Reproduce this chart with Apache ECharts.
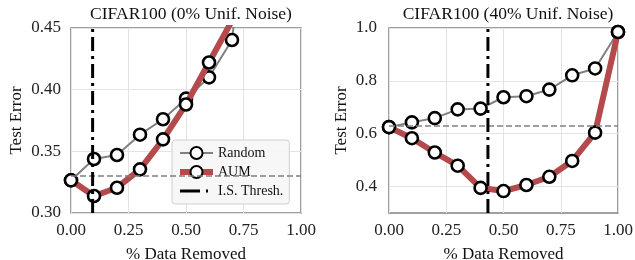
<!DOCTYPE html>
<html>
<head>
<meta charset="utf-8">
<script src="https://cdn.jsdelivr.net/npm/echarts@6/dist/echarts.min.js"></script>
<style>
  html, body { margin: 0; padding: 0; background: #fff; }
  #chart { width: 635px; height: 260px; }
</style>
</head>
<body>
<div id="chart"></div>
<script>
// ============================================================
// 数据
// ============================================================

var X_REMOVED = [0, 0.1, 0.2, 0.3, 0.4, 0.5, 0.6, 0.7, 0.8, 0.9, 1.0];

// CIFAR100 (0% Unif. Noise)
var RANDOM_0 = [0.3265, 0.3438, 0.347, 0.3635, 0.376, 0.3927, 0.410, 0.4403, 0.60, 0.78, 0.99];
var AUM_0 = [0.3265, 0.3138, 0.3205, 0.3354, 0.3597, 0.388, 0.422, 0.456, 0.60, 0.75, 0.99];
var BASELINE_0 = 0.3265;
var THRESH_0 = 0.094;

// CIFAR100 (40% Unif. Noise)
var RANDOM_40 = [0.625, 0.643, 0.659, 0.692, 0.695, 0.738, 0.742, 0.767, 0.821, 0.847, 0.985];
var AUM_40 = [0.625, 0.583, 0.529, 0.479, 0.395, 0.383, 0.406, 0.437, 0.497, 0.604, 0.985];
var BASELINE_40 = 0.625;
var THRESH_40 = 0.432;

var TITLES = ['CIFAR100 (0% Unif. Noise)', 'CIFAR100 (40% Unif. Noise)'];
var X_TICKS = [0, 0.25, 0.5, 0.75, 1.0];
var Y_TICKS_0 = [0.30, 0.35, 0.40, 0.45];
var Y_TICKS_40 = [0.4, 0.6, 0.8, 1.0];
var Y_RANGE_0 = [0.30, 0.45];
var Y_RANGE_40 = [0.3, 1.0];

var FONT = 'Liberation Serif';
var RED = '#b44a4c';
var GREY = '#808080';

// ============================================================
// 工具函数
// ============================================================

function zip(xs, ys) {
  return xs.map(function(x, i) { return [x, ys[i]]; });
}

function makeXAxis(gridIndex) {
  return {
    type: 'value', gridIndex: gridIndex, min: 0, max: 1,
    name: '% Data Removed', nameLocation: 'middle', nameGap: 33,
    nameTextStyle: { fontFamily: FONT, fontSize: 17, color: '#111' },
    axisLine: { show: false }, axisTick: { show: false, customValues: X_TICKS },
    axisLabel: { customValues: X_TICKS, fontFamily: FONT, fontSize: 17, color: '#222', margin: 9,
      formatter: function(v) { return v.toFixed(2); } },
    splitLine: { show: true, lineStyle: { color: '#e3e3e3', width: 1 } }
  };
}

function makeYAxis(gridIndex, range, ticks, digits, nameGap, margin) {
  return {
    type: 'value', gridIndex: gridIndex, min: range[0], max: range[1],
    name: 'Test Error', nameLocation: 'middle', nameGap: nameGap,
    nameTextStyle: { fontFamily: FONT, fontSize: 17, color: '#111' },
    axisLine: { show: false }, axisTick: { show: false, customValues: ticks },
    axisLabel: { customValues: ticks, fontFamily: FONT, fontSize: 17, color: '#222', margin: margin,
      formatter: function(v) { return v.toFixed(digits); } },
    splitLine: { show: true, lineStyle: { color: '#e3e3e3', width: 1 } }
  };
}

function makeSeries(gridIndex, randomVals, aumVals, baseline, thresh, yRange) {
  var markerStyle = { color: '#fff', borderColor: '#000', borderWidth: 2.6 };
  return [
    {
      name: 'Random', type: 'line', xAxisIndex: gridIndex, yAxisIndex: gridIndex,
      data: zip(X_REMOVED, randomVals), symbol: 'circle', symbolSize: 12,
      lineStyle: { color: GREY, width: 2 }, itemStyle: markerStyle, z: 3,
      markLine: {
        silent: true, symbol: 'none', label: { show: false },
        lineStyle: { color: GREY, type: [6, 3], width: 1.5 },
        data: [{ yAxis: baseline }]
      }
    },
    {
      name: 'AUM', type: 'line', xAxisIndex: gridIndex, yAxisIndex: gridIndex,
      data: zip(X_REMOVED, aumVals), symbol: 'circle', symbolSize: 12,
      lineStyle: { color: RED, width: 6 }, itemStyle: markerStyle, z: 4
    },
    {
      name: 'I.S. Thresh.', type: 'line', xAxisIndex: gridIndex, yAxisIndex: gridIndex,
      data: [[thresh, yRange[0]], [thresh, yRange[1]]], symbol: 'none', showSymbol: false,
      lineStyle: { color: '#000', width: 3, type: [14, 5, 3, 5] }, itemStyle: { color: '#000' }, z: 5
    }
  ];
}

// ============================================================
// 渲染
// ============================================================

var chart = echarts.init(document.getElementById('chart'));

chart.setOption({
  animation: false,
  title: [
    { text: TITLES[0], left: 186, top: 0, textAlign: 'center',
      textStyle: { fontFamily: FONT, fontSize: 17.5, fontWeight: 'normal', color: '#111' } },
    { text: TITLES[1], left: 503, top: 0, textAlign: 'center',
      textStyle: { fontFamily: FONT, fontSize: 17.5, fontWeight: 'normal', color: '#111' } }
  ],
  grid: [
    { left: 71, right: 334, top: 28, bottom: 47, outerBoundsMode: 'none', containLabel: false,
      show: true, borderColor: GREY, borderWidth: 1.5, backgroundColor: 'transparent' },
    { left: 389, right: 17, top: 28, bottom: 47, outerBoundsMode: 'none', containLabel: false,
      show: true, borderColor: GREY, borderWidth: 1.5, backgroundColor: 'transparent' }
  ],
  legend: {
    orient: 'vertical', left: 172, top: 140,
    padding: [6, 6, 6, 5], itemGap: 5, itemWidth: 33, itemHeight: 15,
    backgroundColor: 'rgba(246,246,246,0.9)', borderColor: '#d0d0d0', borderWidth: 1, borderRadius: 3,
    textStyle: { fontFamily: FONT, fontSize: 14, color: '#111' },
    data: [
      { name: 'Random', lineStyle: { width: 2, color: GREY } },
      { name: 'AUM', lineStyle: { width: 6, color: RED } },
      { name: 'I.S. Thresh.', itemStyle: { opacity: 0 },
        lineStyle: { width: 3, color: '#000', type: [20, 6, 2, 6] } }
    ]
  },
  xAxis: [makeXAxis(0), makeXAxis(1)],
  yAxis: [
    makeYAxis(0, Y_RANGE_0, Y_TICKS_0, 2, 46, 10),
    makeYAxis(1, Y_RANGE_40, Y_TICKS_40, 1, 39, 12)
  ],
  series: makeSeries(0, RANDOM_0, AUM_0, BASELINE_0, THRESH_0, Y_RANGE_0)
    .concat(makeSeries(1, RANDOM_40, AUM_40, BASELINE_40, THRESH_40, Y_RANGE_40))
});
</script>
</body>
</html>
